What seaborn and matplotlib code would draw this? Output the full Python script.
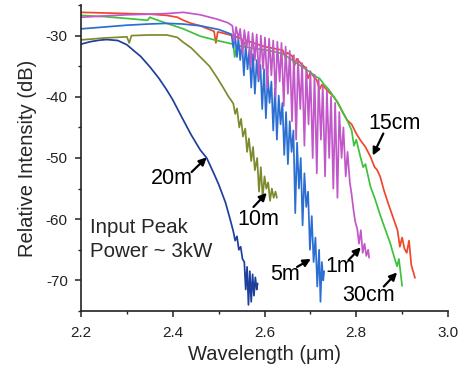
import pandas as pd
import matplotlib.pyplot as plt
import seaborn as sns

# spectra: wavelength (um) / relative intensity (dB)
x_20m = [2.20, 2.22, 2.24, 2.256, 2.28, 2.30, 2.314, 2.33, 2.35, 2.37, 2.387, 2.40, 2.423, 2.44, 2.46,
         2.474, 2.49, 2.50, 2.515, 2.525, 2.532, 2.536, 2.540, 2.544, 2.548, 2.552, 2.556, 2.559, 2.562,
         2.565, 2.568, 2.571, 2.574, 2.577, 2.580, 2.583, 2.585]
y_20m = [-31.4, -31.0, -30.75, -30.65, -30.8, -31.5, -32.4, -33.4, -35.1, -37.0, -38.9, -40.5, -43.8, -46.2, -48.7,
         -50.0, -52.6, -54.3, -57.3, -60.0, -62.0, -63.5, -62.8, -65.0, -64.5, -66.5, -67.0, -71.5, -67.8,
         -74.0, -68.5, -73.5, -69.0, -72.5, -69.5, -71.5, -70.5]

x_10m = [2.20, 2.25, 2.30, 2.305, 2.31, 2.35, 2.387, 2.41, 2.423, 2.44, 2.46, 2.48, 2.496, 2.51, 2.52,
         2.532, 2.536, 2.540, 2.545, 2.549, 2.553, 2.558, 2.562, 2.566, 2.571, 2.575, 2.579, 2.584, 2.588,
         2.592, 2.596, 2.600, 2.604, 2.608, 2.612, 2.616, 2.620, 2.624, 2.627]
y_10m = [-30.7, -30.4, -30.2, -31.2, -30.0, -29.9, -29.9, -30.3, -31.1, -32.0, -33.5, -35.0, -36.8, -38.5, -39.8,
         -41.1, -42.8, -41.9, -45.0, -43.6, -46.5, -45.2, -49.0, -46.8, -50.5, -48.2, -52.0, -50.0, -55.5,
         -51.5, -56.5, -53.0, -55.0, -54.0, -57.0, -55.0, -56.5, -55.5, -56.5]

x_5m = [2.20, 2.25, 2.30, 2.35, 2.387, 2.42, 2.46, 2.50, 2.525,
        2.528, 2.532, 2.536, 2.540, 2.543, 2.547, 2.551, 2.555, 2.559, 2.563, 2.567, 2.571, 2.575, 2.579,
        2.583, 2.587, 2.591, 2.595, 2.599, 2.603, 2.607, 2.611, 2.615, 2.619, 2.623, 2.627, 2.631, 2.635,
        2.639, 2.643, 2.647, 2.651, 2.655, 2.659, 2.663, 2.667, 2.671, 2.675, 2.679, 2.683, 2.687, 2.691,
        2.695, 2.699, 2.703, 2.707, 2.711, 2.715, 2.719, 2.722, 2.725, 2.728, 2.730]
y_5m = [-28.9, -28.6, -28.3, -28.1, -28.0, -28.1, -28.4, -29.0, -29.7,
        -29.8, -32.0, -30.0, -33.5, -30.4, -34.0, -31.0, -36.5, -31.6, -35.5, -32.3, -38.5, -33.0, -39.5,
        -34.0, -37.5, -34.8, -42.0, -35.5, -43.5, -36.6, -41.0, -37.5, -45.5, -38.6, -47.0, -39.8, -44.5,
        -41.0, -49.5, -42.5, -51.0, -44.0, -49.0, -45.5, -59.0, -47.5, -55.0, -50.0, -61.0, -52.5, -58.0,
        -55.5, -65.0, -59.5, -67.0, -63.0, -71.0, -65.0, -73.5, -67.0, -70.0, -68.5]

x_1m = [2.20, 2.25, 2.30, 2.35, 2.387, 2.423, 2.46, 2.496, 2.52,
        2.530, 2.534, 2.538, 2.543, 2.547, 2.552, 2.556, 2.561, 2.565, 2.570, 2.574, 2.579, 2.583, 2.588,
        2.592, 2.597, 2.601, 2.606, 2.610, 2.615, 2.619, 2.624, 2.628, 2.633, 2.637, 2.642, 2.646, 2.651,
        2.655, 2.660, 2.664, 2.669, 2.673, 2.678, 2.682, 2.687, 2.691, 2.696, 2.700, 2.705, 2.709, 2.714,
        2.718, 2.723, 2.727, 2.732, 2.736, 2.741, 2.745, 2.750, 2.754, 2.759, 2.763, 2.768, 2.772, 2.777,
        2.781, 2.786, 2.790, 2.794, 2.798, 2.802, 2.806, 2.810, 2.814, 2.818, 2.822, 2.826, 2.828]
y_1m = [-27.0, -26.8, -26.6, -26.5, -26.4, -26.2, -26.6, -27.3, -27.9,
        -28.4, -31.0, -28.6, -30.5, -28.9, -33.0, -29.1, -32.0, -29.4, -35.0, -29.6, -34.0, -29.8, -37.0,
        -30.0, -35.5, -30.3, -38.5, -30.5, -36.5, -30.8, -40.0, -31.0, -37.5, -31.2, -41.5, -31.8, -39.5,
        -32.5, -44.0, -33.2, -47.0, -33.8, -42.0, -34.5, -48.0, -35.2, -44.5, -35.8, -50.0, -36.4, -52.5,
        -37.2, -47.0, -38.2, -53.0, -39.0, -50.0, -40.0, -55.0, -41.0, -56.5, -42.5, -50.0, -45.0, -53.0,
        -49.0, -54.0, -56.0, -58.5, -60.5, -61.5, -64.0, -61.8, -65.5, -64.0, -66.0, -65.0, -66.3]

x_15cm = [2.20, 2.25, 2.30, 2.35, 2.387, 2.41, 2.423, 2.44, 2.46, 2.48, 2.49, 2.494, 2.498, 2.51, 2.53,
          2.55, 2.555, 2.56, 2.58, 2.60, 2.62, 2.64, 2.645, 2.65, 2.66, 2.665, 2.67, 2.68, 2.69, 2.695,
          2.70, 2.714, 2.72, 2.725, 2.74, 2.751, 2.76, 2.77, 2.78, 2.79, 2.80, 2.809, 2.82, 2.831, 2.84,
          2.845, 2.852, 2.86, 2.87, 2.882, 2.89, 2.895, 2.90, 2.905, 2.91, 2.915, 2.92, 2.925, 2.928]
y_15cm = [-26.2, -26.3, -26.4, -26.5, -26.7, -27.0, -27.5, -28.0, -28.4, -29.0, -29.3, -31.2, -29.4, -29.6, -30.0,
          -30.5, -31.5, -30.8, -31.3, -31.8, -32.1, -32.4, -33.5, -32.8, -33.3, -35.0, -33.8, -34.6, -35.3, -37.0,
          -36.0, -37.3, -38.8, -38.0, -39.2, -40.0, -41.0, -42.5, -43.8, -44.5, -46.0, -47.1, -48.2, -49.8, -51.5,
          -51.9, -53.0, -55.2, -57.5, -60.1, -61.8, -64.5, -63.0, -64.8, -65.5, -63.5, -67.5, -68.8, -69.6]

x_30cm = [2.20, 2.25, 2.30, 2.345, 2.35, 2.36, 2.387, 2.423, 2.46, 2.496, 2.532, 2.535, 2.54, 2.56, 2.58,
          2.605, 2.62, 2.641, 2.66, 2.678, 2.69, 2.70, 2.714, 2.72, 2.73, 2.74, 2.751, 2.76, 2.77, 2.78,
          2.79, 2.795, 2.80, 2.809, 2.815, 2.82, 2.831, 2.84, 2.853, 2.86, 2.874, 2.88, 2.889, 2.893, 2.897, 2.90]
y_30cm = [-26.7, -26.9, -27.2, -27.5, -27.0, -27.3, -28.0, -28.9, -30.1, -30.8, -31.4, -33.5, -31.6, -31.9, -32.1,
          -32.4, -32.6, -33.0, -34.0, -34.9, -35.5, -36.0, -36.8, -37.0, -38.0, -38.8, -40.0, -41.0, -42.4, -43.8,
          -45.5, -48.0, -47.0, -49.8, -51.5, -51.0, -54.7, -56.5, -59.5, -61.0, -63.9, -65.5, -67.7, -66.5, -69.0, -70.9]

series = {
    "20m": (x_20m, y_20m),
    "10m": (x_10m, y_10m),
    "15cm": (x_15cm, y_15cm),
    "30cm": (x_30cm, y_30cm),
    "5m": (x_5m, y_5m),
    "1m": (x_1m, y_1m),
}
colors = {"20m": "#1e3f9c", "10m": "#7d8a2e", "15cm": "#f0462a", "30cm": "#3ec23c",
          "5m": "#2b6fd3", "1m": "#c257c9"}

# label text position, arrow tail, arrow tip
labels = {
    "15cm": ((2.884, -44.4), (2.859, -46.0), (2.836, -49.6)),
    "20m": ((2.398, -53.3), (2.441, -52.3), (2.474, -49.9)),
    "10m": ((2.587, -60.1), (2.576, -58.0), (2.605, -55.7)),
    "5m": ((2.645, -69.0), (2.671, -67.8), (2.701, -66.5)),
    "1m": ((2.765, -67.7), (2.783, -66.7), (2.810, -64.6)),
    "30cm": ((2.827, -72.5), (2.860, -71.0), (2.889, -68.7)),
}

frames = []
for name, (xs, ys) in series.items():
    frames.append(pd.DataFrame({"wl": xs, "db": ys, "fiber": name}))
df = pd.concat(frames, ignore_index=True)

sns.set_style("ticks")
plt.rcParams["font.family"] = ["Liberation Sans", "DejaVu Sans"]

fig = plt.figure(figsize=(4.63, 3.70), dpi=100)
ax = fig.add_axes([0.175, 0.1595, 0.7926, 0.827])

sns.lineplot(data=df, x="wl", y="db", hue="fiber", hue_order=list(series.keys()),
             palette=colors, sort=False, estimator=None, linewidth=1.25, legend=False, ax=ax)

for name, (txt, tail, tip) in labels.items():
    ax.text(txt[0], txt[1], name, fontsize=15.5, ha="center", va="center", color="black")
    ax.annotate("", xy=tip, xytext=tail,
                arrowprops=dict(arrowstyle="-|>", color="black", lw=1.6, mutation_scale=11,
                                shrinkA=0, shrinkB=0))

ax.text(2.2196, -61.3, "Input Peak", fontsize=14.8, ha="left", va="center")
ax.text(2.2196, -65.3, "Power ~ 3kW", fontsize=14.8, ha="left", va="center")

ax.set_xlim(2.2, 3.0)
ax.set_ylim(-75, -25)
ax.set_xticks([2.2, 2.4, 2.6, 2.8, 3.0])
ax.set_xticks([2.3, 2.5, 2.7, 2.9], minor=True)
ax.set_yticks([-70, -60, -50, -40, -30])
ax.set_yticks([-75, -65, -55, -45, -35, -25], minor=True)
ax.set_xticklabels(["2.2", "2.4", "2.6", "2.8", "3.0"])
ax.set_yticklabels(["-70", "-60", "-50", "-40", "-30"])
ax.tick_params(axis="both", which="major", direction="out", length=4.5, width=1.1,
               labelsize=11, colors="#222222")
ax.tick_params(axis="both", which="minor", direction="out", length=2.5, width=1.0, colors="#222222")
ax.tick_params(axis="x", which="major", pad=6)
ax.tick_params(axis="y", which="major", pad=5)
for side in ["left", "bottom"]:
    ax.spines[side].set_linewidth(1.2)
    ax.spines[side].set_color("#222222")
sns.despine(ax=ax)

ax.set_xlabel("Wavelength (\u03bcm)", fontsize=14.5, labelpad=4)
ax.set_ylabel("Relative Intensity (dB)", fontsize=14.5, labelpad=6)

fig.savefig("out.png", dpi=100)
